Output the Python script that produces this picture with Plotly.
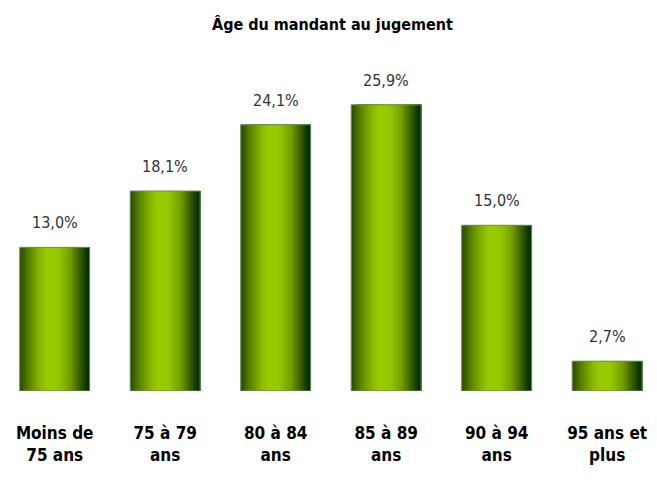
import plotly.graph_objects as go

# ---- data ----
categories = ["Moins de<br>75 ans", "75 à 79<br>ans", "80 à 84<br>ans",
              "85 à 89<br>ans", "90 à 94<br>ans", "95 ans et<br>plus"]
values = [13.0, 18.1, 24.1, 25.9, 15.0, 2.7]
value_labels = ["13,0%", "18,1%", "24,1%", "25,9%", "15,0%", "2,7%"]
title_text = "Âge du mandant au jugement"

# ---- style ----
FONT = "DejaVu Sans Condensed, Liberation Sans Narrow, Arial Narrow, Liberation Sans, sans-serif"
BAR_W = 0.633
N_STRIPS = 40
STOPS = [(0.00, (40, 72, 0)), (0.12, (85, 125, 0)), (0.30, (140, 185, 0)),
         (0.40, (153, 204, 0)), (0.55, (150, 200, 0)), (0.72, (115, 158, 0)),
         (0.86, (55, 92, 0)), (0.95, (10, 55, 0)), (1.00, (0, 48, 0))]


def grad(t):
    for (p0, c0), (p1, c1) in zip(STOPS[:-1], STOPS[1:]):
        if p0 <= t <= p1:
            f = (t - p0) / (p1 - p0) if p1 > p0 else 0
            return "rgb(%d,%d,%d)" % tuple(round(a + (b - a) * f) for a, b in zip(c0, c1))
    return "rgb(%d,%d,%d)" % STOPS[-1][1]


xs = list(range(len(categories)))
fig = go.Figure()
step = BAR_W / N_STRIPS
for k in range(N_STRIPS):
    t = (k + 0.5) / N_STRIPS
    fig.add_trace(go.Bar(
        x=xs, y=values, width=BAR_W - k * step, offset=-BAR_W / 2 + k * step,
        marker=dict(color=grad(t), line=dict(width=0)),
        showlegend=False, hoverinfo="skip"))
fig.add_trace(go.Bar(
    x=xs, y=values, width=BAR_W, offset=-BAR_W / 2,
    marker=dict(color="rgba(0,0,0,0)", line=dict(color="rgb(110,140,100)", width=1)),
    showlegend=False, hoverinfo="skip"))

for x, v, lab in zip(xs, values, value_labels):
    fig.add_annotation(x=x, y=v, text=lab, showarrow=False, yanchor="bottom",
                       yshift=13, font=dict(family=FONT, size=16, color="#333333"))

# the page body has an 8px margin, so the figure is 8px smaller than the window
fig.update_layout(
    width=649, height=477, barmode="overlay",
    margin=dict(l=0, r=0, t=32, b=94, autoexpand=False),
    paper_bgcolor="white", plot_bgcolor="white",
    title=dict(text=title_text, x=0.5, xanchor="center", y=1 - 16 / 477,
               yanchor="middle", yref="container",
               font=dict(family=FONT, size=16, color="black", weight="bold")),
    xaxis=dict(range=[-0.4226, 5.451], tickvals=xs, ticktext=categories,
               showgrid=False, zeroline=False, showline=False, ticks="",
               automargin=False,
               tickfont=dict(family=FONT, size=17, color="black", weight="bold"),
               ticklabelstandoff=30),
    yaxis=dict(range=[0, 31.77], visible=False, showgrid=False, zeroline=False,
               automargin=False),
)
fig.write_html("out.html")
